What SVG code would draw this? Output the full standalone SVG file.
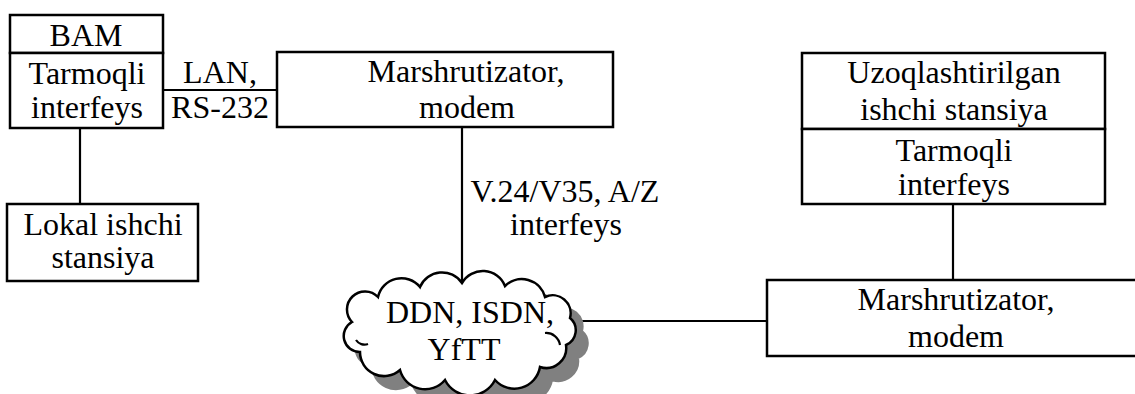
<svg xmlns="http://www.w3.org/2000/svg" width="1135" height="394" viewBox="0 0 1135 394">
<style>
text{font-family:"Liberation Serif","Times New Roman",serif;font-size:32px;fill:#000;text-anchor:middle}
.box{fill:#fff;stroke:#000;stroke-width:2.5}
.ln{stroke:#000;stroke-width:2.2;fill:none}
</style>
<defs>
<path id="cloudShape" d="M352,322 A16,16 0 0 1 378,297 A24,24 0 0 1 420,287 A24,24 0 0 1 462,283 A24,24 0 0 1 505,286 A24,24 0 0 1 545,297 A18,18 0 0 1 570,318 A16,16 0 0 1 566,345 A20,20 0 0 1 540,367 A26,26 0 0 1 495,380 A28,28 0 0 1 445,380 A26,26 0 0 1 400,370 A24,24 0 0 1 360,352 A16,16 0 0 1 352,322 Z"/>
</defs>
<g id="connectors">
<line class="ln" x1="163" y1="90" x2="277" y2="90"/>
<line class="ln" x1="80" y1="128" x2="80" y2="204"/>
<line class="ln" x1="462" y1="127" x2="462" y2="292"/>
<line class="ln" x1="578" y1="321" x2="767" y2="321"/>
<line class="ln" x1="953" y1="204" x2="953" y2="280"/>
<text x="220" y="83">LAN,</text>
<text x="220" y="118">RS-232</text>
<text x="565" y="202">V.24/V35, A/Z</text>
<text x="566" y="235">interfeys</text>
</g>
<g id="bam">
<rect class="box" x="10" y="15" width="153" height="38"/>
<text x="86" y="46">BAM</text>
</g>
<g id="tarmoqli-left">
<rect class="box" x="10" y="53" width="153" height="75"/>
<text x="87" y="84">Tarmoqli</text>
<text x="87" y="118">interfeys</text>
</g>
<g id="lokal">
<rect class="box" x="7" y="204" width="191" height="77"/>
<text x="103" y="235">Lokal ishchi</text>
<text x="103" y="268">stansiya</text>
</g>
<g id="marsh-top">
<rect class="box" x="277" y="52" width="336" height="75"/>
<text x="466" y="82">Marshrutizator,</text>
<text x="467" y="118">modem</text>
</g>
<g id="cloud">
<use href="#cloudShape" transform="translate(12,13)" fill="#808080" stroke="#808080" stroke-width="2"/>
<use href="#cloudShape" fill="#fff" stroke="#000" stroke-width="2.5"/>
<path d="M356,340 A10,10 0 0 0 368,344" class="ln"/>
<path d="M545,333 A14,14 0 0 1 560,345" class="ln"/>
<text x="470" y="323">DDN, ISDN,</text>
<text x="464" y="360">YfTT</text>
</g>
<g id="uzoq">
<rect class="box" x="802" y="53" width="303" height="76"/>
<text x="954" y="83">Uzoqlashtirilgan</text>
<text x="954" y="120">ishchi stansiya</text>
</g>
<g id="tarmoqli-right">
<rect class="box" x="802" y="129" width="303" height="75"/>
<text x="954" y="161">Tarmoqli</text>
<text x="954" y="195">interfeys</text>
</g>
<g id="marsh-bottom">
<rect class="box" x="767" y="280" width="380" height="76"/>
<text x="956" y="310">Marshrutizator,</text>
<text x="956" y="347">modem</text>
</g>
</svg>
